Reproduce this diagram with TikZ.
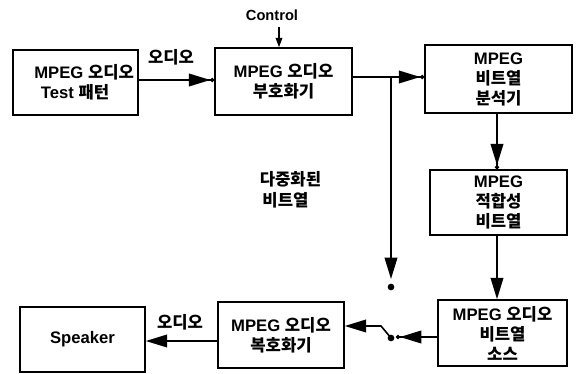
\documentclass[tikz,border=0pt]{standalone}
\usepackage{fontspec}
\setmainfont{Liberation Sans}
\newfontfamily\krfont{Noto Sans CJK KR}
\newcommand{\kor}[1]{{\krfont\bfseries #1}}
\usetikzlibrary{arrows.meta}

\tikzset{every picture/.style={line width=1.2pt}}

\begin{document}
\begin{tikzpicture}[x=0.75pt,y=0.75pt,yscale=-1,xscale=1,
  blk/.style={draw, inner sep=0pt, align=center, font=\bfseries\fontsize{12.5}{15}\selectfont},
  lbl/.style={inner sep=0pt, font=\bfseries\fontsize{12.5}{15.75}\selectfont},
  arr/.style={-{Triangle[length=16pt,width=9.5pt]}},
  arrd/.style={-{Triangle[length=16pt,width=9.5pt]Circle[length=3pt]}},
  sarr/.style={line width=1pt,-{Triangle[length=7pt,width=5pt]}},
  dot/.style={circle, fill, inner sep=0pt, minimum size=5pt}]
\useasboundingbox (0,0) rectangle (579,374);

% blocks
\node[blk, minimum width=93.75pt, minimum height=48.75pt, align=left] (test) at (75.5,82.5) {\hspace*{13pt}MPEG \kor{오디오}\\\hspace*{18pt}Test \kor{패턴}};
\node[blk, minimum width=102.75pt, minimum height=50.25pt] (enc) at (283.5,81.5) {MPEG \kor{오디오}\\\kor{부호화기}};
\node[blk, minimum width=110.25pt, minimum height=51pt] (anal) at (498.5,79) {MPEG\\\kor{비트열}\\\kor{분석기}};
\node[blk, minimum width=102.75pt, minimum height=48.75pt] (conf) at (498.5,202.5) {MPEG\\\kor{적합성}\\\kor{비트열}};
\node[blk, minimum width=96.75pt, minimum height=49.5pt] (src) at (502.5,333) {MPEG \kor{오디오}\\\kor{비트열}\\\kor{소스}};
\node[blk, minimum width=94.5pt, minimum height=49.5pt] (dec) at (281,335) {MPEG \kor{오디오}\\\kor{복호화기}};
\node[blk, minimum width=93.75pt, minimum height=48.75pt] (spk) at (82.5,339.5) {Speaker};

% labels
\node[lbl, font=\bfseries\fontsize{11}{12}\selectfont] (ctl) at (272,15) {Control};
\node[lbl] (au1) at (171,57) {\kor{오디오}};
\node[lbl] (au2) at (180,322) {\kor{오디오}};
\node[lbl, align=left, anchor=west] (mux) at (259,189.5) {\kor{다중화된}\\\hspace{2pt}\kor{비트열}};

% helper points
\coordinate (r1) at (0,80);
\coordinate (ca) at (279,27);
\coordinate (jn) at (391,77);
\coordinate (mt) at (391,279);
\coordinate (cx) at (497,0);
\coordinate (st) at (396,337);
\coordinate (sb) at (381,326);
\coordinate (r3) at (0,341);
\node[dot] (md) at (391,287) {};
\node[dot] (sd) at (391,338) {};

% connectors
\draw[arrd] (test.east |- r1) -- (enc.west |- r1);
\draw[sarr] (ca) -- (ca |- enc.north);
\draw (enc.east |- jn) -- (jn);
\draw[arrd] (jn) -- (jn -| anal.west);
\draw[arr] (jn) -- (mt);
\draw[arrd] (anal.south -| cx) -- (conf.north -| cx);
\draw[arr] (conf.south -| cx) -- (src.north -| cx);
\draw[arrd] (src.west |- st) -- (st);
\draw[arr] (sd.center) -- (sb) -- (sb -| dec.east);
\draw[arr] (dec.west |- r3) -- (spk.east |- r3);

\end{tikzpicture}
\end{document}
